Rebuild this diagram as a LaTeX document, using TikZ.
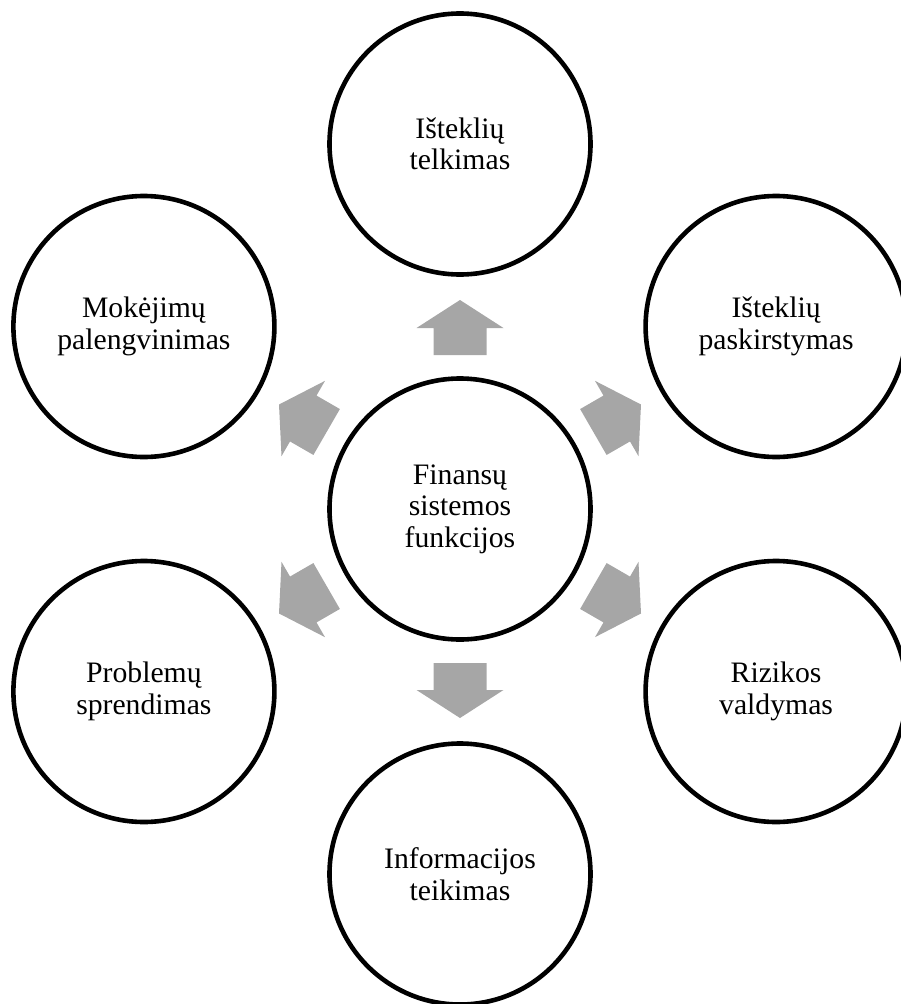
\documentclass[tikz,border=0pt]{standalone}
\usepackage{fontspec}
\setmainfont{Liberation Serif}
\usetikzlibrary{calc}
\definecolor{arrowgray}{RGB}{166,166,166}
\tikzset{
  funcircle/.style={circle, draw=black, line width=4.6pt, fill=white,
    minimum size=261pt, inner sep=0pt, align=center,
    font=\fontsize{29.7}{31.5}\selectfont},
  blockfill/.style={fill=arrowgray, draw=none}
}
\newcommand\blockarrow[2]{%
  \coordinate (s0) at ($(#1)!154pt!(#2)$);
  \coordinate (h0) at ($(#1)!181pt!(#2)$);
  \coordinate (tp) at ($(#1)!209pt!(#2)$);
  \fill[blockfill] ($(s0)!26.5pt!90:(#2)$) -- ($(h0)!26.5pt!90:(#2)$)
    -- ($(h0)!43.5pt!90:(#2)$) -- (tp) -- ($(h0)!43.5pt!-90:(#2)$)
    -- ($(h0)!26.5pt!-90:(#2)$) -- ($(s0)!26.5pt!-90:(#2)$) -- cycle;}
\begin{document}
\begin{tikzpicture}[x=1pt,y=-1pt]
\useasboundingbox (0,0) rectangle (901,1004);
\clip (0,0) rectangle (901,1004);
\node[funcircle] (c)  at (460,509)   {Finansų\\sistemos\\funkcijos};
\node[funcircle] (t)  at (460,144)   {Išteklių\\telkimas};
\node[funcircle] (ur) at (776.1,326.5) {Išteklių\\paskirstymas};
\node[funcircle] (lr) at (776.1,691.5) {Rizikos\\valdymas};
\node[funcircle] (b)  at (460,874)   {Informacijos\\teikimas};
\node[funcircle] (ll) at (143.9,691.5) {Problemų\\sprendimas};
\node[funcircle] (ul) at (143.9,326.5) {Mokėjimų\\palengvinimas};
\blockarrow{c}{t}
\blockarrow{c}{ur}
\blockarrow{c}{lr}
\blockarrow{c}{b}
\blockarrow{c}{ll}
\blockarrow{c}{ul}
\end{tikzpicture}
\end{document}
